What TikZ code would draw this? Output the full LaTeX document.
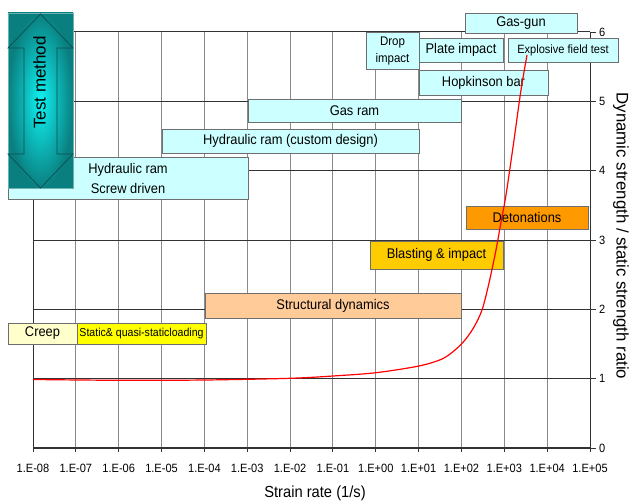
\documentclass[tikz,border=0pt]{standalone}
\usepackage{fontspec}
\setmainfont{Liberation Sans}[FakeStretch=0.92]
\newfontfamily\rotfont{Liberation Sans}
\definecolor{lcyan}{HTML}{CCFFFF}
\definecolor{peach}{HTML}{FFCC99}
\definecolor{gold}{HTML}{FFCC00}
\definecolor{orng}{HTML}{FF9900}
\definecolor{lyel}{HTML}{FFFFCC}
\definecolor{yel}{HTML}{FFFF00}
\definecolor{boxgray}{HTML}{6E6E6E}
\definecolor{gridgray}{HTML}{8A8A8A}
\definecolor{griddark}{HTML}{333333}
\definecolor{tealdark}{HTML}{0A7F80}
\definecolor{tealbright}{HTML}{10F2F2}
\definecolor{tealline}{HTML}{0B4F50}
\tikzset{
  bx/.style 2 args={minimum width=#1, minimum height=#2, inner sep=0pt, outer sep=0pt,
    draw=boxgray, line width=0.9pt, align=center},
  cyanbox/.style={fill=lcyan},
  lbl/.style={font=\fontsize{14}{20}\selectfont},
  gridv/.style={draw=gridgray, line width=1pt},
  gridh/.style={draw=griddark, line width=0.9pt},
  axisline/.style={draw=griddark, line width=1pt},
  ticklbl/.style={font=\fontsize{12}{13}\selectfont, inner sep=0pt},
}
\begin{document}
\begin{tikzpicture}[x=1pt,y=-1pt]
\useasboundingbox (0,0) rectangle (631,503);
% grid
\foreach \i in {1,...,12} \draw[gridv] ({33+\i*42.846},32) -- ({33+\i*42.846},448);
\foreach \j in {1,...,5} \draw[gridh] (33,{448-\j*69.333}) -- (590,{448-\j*69.333});
\draw[axisline] (33,32) -- (590,32);
\draw[axisline] (33,32) -- (33,448);
\draw[axisline] (590,32) -- (590,448);
\draw[draw=griddark, line width=1.6pt] (33,448) -- (590,448);
% ticks
\foreach \j in {0,...,6} {
  \draw[axisline] (590,{448-\j*69.333}) -- (596,{448-\j*69.333});
  \node[ticklbl, anchor=west] (yt\j) at (599,{448-\j*69.333}) {\j};
}
\foreach \i/\l in {0/1.E-08,1/1.E-07,2/1.E-06,3/1.E-05,4/1.E-04,5/1.E-03,6/1.E-02,7/1.E-01,8/1.E+00,9/1.E+01,10/1.E+02,11/1.E+03,12/1.E+04,13/1.E+05} {
  \draw[axisline] ({33+\i*42.846},448) -- ({33+\i*42.846},452);
  \node[ticklbl] (xt\i) at ({33+\i*42.846},468.5) {\l};
}
\node[font=\fontsize{16}{18}\selectfont] (xlab) at (315,493) {Strain rate (1/s)};
\node[rotate=-90, font=\rotfont\fontsize{16.8}{18}\selectfont] (ylab) at (621,236) {Dynamic strength / static strength ratio};
% boxes
\node[bx={240}{42}, cyanbox, lbl] (hyds) at (128,178) {Hydraulic ram\\Screw driven};
\node[bx={257}{24}, cyanbox, lbl] (hydc) at (290.5,141) {Hydraulic ram (custom design)};
\node[bx={213}{23}, cyanbox, lbl] (gasram) at (354.5,110.5) {Gas ram};
\node[bx={53}{37}, cyanbox, font=\fontsize{12.5}{17}\selectfont] (drop) at (392.5,50.5) {Drop\\impact};
\node[bx={84}{24}, cyanbox, lbl] (plate) at (461,50) {Plate impact};
\node[bx={110}{24}, cyanbox, font=\fontsize{12}{14}\selectfont] (expl) at (563,50) {Explosive field test};
\node[bx={112}{20}, cyanbox, lbl] (gasgun) at (521,23) {Gas-gun};
\node[bx={129}{25}, cyanbox, lbl] (hopk) at (483.5,82.5) {Hopkinson bar};
\node[bx={122}{23}, fill=orng, lbl] (deton) at (527,217.5) {Detonations};
\node[bx={133}{28}, fill=gold, lbl] (blast) at (436.5,255) {Blasting \& impact};
\node[bx={256}{25}, fill=peach, lbl] (struct) at (333,305.5) {Structural dynamics};
\node[bx={69}{21}, fill=lyel, lbl] (creep) at (42.5,333.5) {Creep};
\node[bx={129}{21}, fill=yel, font=\fontsize{11.5}{13}\selectfont] (static) at (141.5,333.5) {Static\& quasi-staticloading};
% test method arrow
\shade[inner color=tealbright, outer color=tealdark] (8,13) rectangle (73,188);
\draw[draw=tealdark!60!white, line width=0.6pt] (8,13) rectangle (73,188);
\draw[draw=tealline, line width=0.7pt, line join=miter]
  (40.5,14) -- (73,48) -- (57,48) -- (57,154) -- (73,154) -- (40.5,188)
  -- (8,154) -- (24,154) -- (24,48) -- (8,48) -- cycle;
\node[rotate=90, font=\rotfont\fontsize{17}{19}\selectfont] (tm) at (39.5,82.5) {Test method};
% red curve
\draw[red, line width=1.2pt] plot[smooth, tension=0.5] coordinates {
 (33,379.5) (120,380.3) (205,380) (290,378.3) (333,376) (376,372.7) (419,366)
 (442,359) (455,350) (465,340) (474,327) (482,310) (489,283) (496,250)
 (501,222) (506,195) (514,140) (521,90) (527,55)};
\end{tikzpicture}
\end{document}
